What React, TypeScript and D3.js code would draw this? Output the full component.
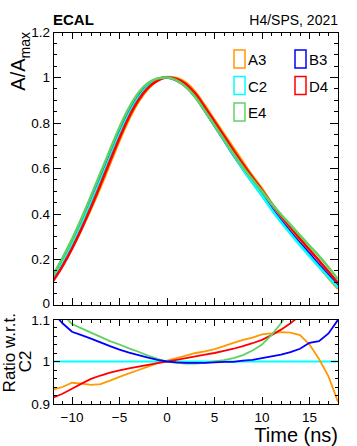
import React from "react";
import * as d3 from "d3";

const times = [-12, -11, -10, -9, -8, -7, -6, -5, -4, -3, -2, -1, 0, 1, 2, 3, 4, 5, 6, 7, 8, 9, 10, 11, 12, 13, 14, 15, 16, 17, 18];

// normalised pulse of the reference channel C2
const pulseC2 = [0.115, 0.185, 0.265, 0.353, 0.448, 0.548, 0.65, 0.75, 0.84, 0.912, 0.962, 0.99, 1.0,
  0.99, 0.963, 0.917, 0.855, 0.79, 0.725, 0.66, 0.597, 0.537, 0.48, 0.42, 0.365, 0.313, 0.263, 0.215, 0.168, 0.122, 0.078];

// ratio of each channel to C2
const ratioA3 = [0.934, 0.94, 0.95, 0.948, 0.945, 0.947, 0.955, 0.964, 0.972, 0.98, 0.988, 0.996, 1.002,
  1.008, 1.014, 1.02, 1.024, 1.029, 1.036, 1.044, 1.051, 1.056, 1.064, 1.066, 1.069, 1.068, 1.062, 1.04, 1.006, 0.965, 0.905];
const ratioB3 = [1.115, 1.09, 1.07, 1.062, 1.054, 1.045, 1.036, 1.028, 1.021, 1.015, 1.009, 1.004, 1.0,
  0.998, 0.997, 0.997, 0.997, 0.998, 0.999, 0.999, 1.002, 1.004, 1.008, 1.012, 1.016, 1.022, 1.03, 1.044, 1.048, 1.066, 1.098];
const ratioC2 = times.map(() => 1);
const ratioD4 = [0.915, 0.924, 0.936, 0.948, 0.959, 0.967, 0.974, 0.979, 0.984, 0.988, 0.992, 0.996, 1.0,
  1.004, 1.008, 1.012, 1.016, 1.02, 1.025, 1.03, 1.036, 1.043, 1.051, 1.062, 1.075, 1.09, 1.108, 1.13, 1.16, 1.2, 1.24];
const ratioE4 = [1.135, 1.112, 1.088, 1.078, 1.068, 1.058, 1.048, 1.04, 1.031, 1.023, 1.014, 1.006, 1.0,
  0.997, 0.995, 0.995, 0.997, 1.0, 1.003, 1.008, 1.015, 1.026, 1.04, 1.062, 1.09, 1.125, 1.165, 1.21, 1.28, 1.36, 1.45];

const channels = ["A3", "B3", "C2", "D4", "E4"];
const channelColors = ["#ff9900", "#0000ff", "#00ffff", "#ff0000", "#5fd35f"];
const channelRatios = [ratioA3, ratioB3, ratioC2, ratioD4, ratioE4];

const ampTicks = [0, 0.2, 0.4, 0.6, 0.8, 1, 1.2];
const ampTickLabels = ["0", "0.2", "0.4", "0.6", "0.8", "1", "1.2"];
const ratioTicks = [0.9, 1, 1.1];
const ratioTickLabels = ["0.9", "1", "1.1"];
const timeTicks = [-10, -5, 0, 5, 10, 15];
const timeTickLabels = ["\u221210", "\u22125", "0", "5", "10", "15"];

const W = 357, H = 446;
const left = 53, right = 338;
const topPad = { y0: 32, y1: 305 };
const botPad = { y0: 319, y1: 404 };
const font = "'Liberation Sans', Arial, Helvetica, sans-serif";

const Frame = ({ x, y, minorX, minorY, majX, minX, majY, minY }) => {
  const [y0, y1] = y.range().slice().sort((a, b) => a - b);
  const [x0, x1] = x.range();
  const segs = [];
  minorX.forEach((v, i) => {
    const len = timeTicks.includes(v) ? majX : minX;
    const px = x(v);
    segs.push(<line key={"xb" + i} x1={px} x2={px} y1={y1} y2={y1 - len} />);
    segs.push(<line key={"xt" + i} x1={px} x2={px} y1={y0} y2={y0 + len} />);
  });
  minorY.forEach((m, i) => {
    const len = m.major ? majY : minY;
    const py = y(m.v);
    segs.push(<line key={"yl" + i} x1={x0} x2={x0 + len} y1={py} y2={py} />);
    segs.push(<line key={"yr" + i} x1={x1} x2={x1 - len} y1={py} y2={py} />);
  });
  return (
    <g stroke="#000" strokeWidth={1} fill="none" shapeRendering="crispEdges">
      <rect x={x0} y={y0} width={x1 - x0} height={y1 - y0} />
      {segs}
    </g>
  );
};

export default function App() {
  const x = d3.scaleLinear().domain([-12, 18]).range([left, right]);
  const yAmp = d3.scaleLinear().domain([0, 1.2]).range([topPad.y1, topPad.y0]);
  const yRat = d3.scaleLinear().domain([0.9, 1.1]).range([botPad.y1, botPad.y0]);

  const minorX = d3.range(-12, 18.01, 1).map((v) => Math.round(v));
  const ampMinor = d3.range(0, 1.2001, 0.05).map((v, i) => ({ v, major: i % 4 === 0 }));
  const ratMinor = d3.range(0.9, 1.1001, 0.02).map((v, i) => ({ v, major: i % 5 === 0 }));

  const ampLine = d3.line<number>().x((_, i) => x(times[i])).y((d) => yAmp(d)).curve(d3.curveMonotoneX);
  const ratLine = d3.line<number>().x((_, i) => x(times[i])).y((d) => yRat(d)).curve(d3.curveLinear);

  const legendPos = [
    { col: 0, row: 0 }, { col: 1, row: 0 }, { col: 0, row: 1 }, { col: 1, row: 1 }, { col: 0, row: 2 },
  ];

  return (
    <svg width={W} height={H} style={{ position: "absolute", left: 0, top: 0, fontFamily: font }}>
      <rect width={W} height={H} fill="#fff" />
      <defs>
        <clipPath id="clipTop"><rect x={left} y={topPad.y0} width={right - left} height={topPad.y1 - topPad.y0} /></clipPath>
        <clipPath id="clipBot"><rect x={left} y={botPad.y0} width={right - left} height={botPad.y1 - botPad.y0} /></clipPath>
      </defs>

      {/* top pad curves */}
      <g clipPath="url(#clipTop)" fill="none" strokeWidth={2.6}>
        {channels.map((c, k) => (
          <path key={c} d={ampLine(pulseC2.map((p, i) => p * channelRatios[k][i])) || ""} stroke={channelColors[k]} />
        ))}
      </g>
      <Frame x={x} y={yAmp} minorX={minorX} minorY={ampMinor} majX={7} minX={3.5} majY={8} minY={4} />
      {ampTicks.map((t, i) => (
        <text key={t} x={left - 3} y={yAmp(t) - (t === 0 ? 1.5 : 0)} dy="0.35em" textAnchor="end" fontSize={13.5}>{ampTickLabels[i]}</text>
      ))}
      <text transform={`translate(${25},${topPad.y0}) rotate(-90)`} textAnchor="end" fontSize={20}>
        A/A<tspan fontSize={14} dy={5}>max</tspan>
      </text>

      {/* legend */}
      {channels.map((c, k) => {
        const p = legendPos[k];
        const bx = 234 + p.col * 61;
        const by = 50 + p.row * 26.5;
        return (
          <g key={c}>
            <rect x={bx} y={by} width={11} height={18} fill="none" stroke={channelColors[k]} strokeWidth={1.5} />
            <text x={bx + 14} y={by + 15} fontSize={15}>{c}</text>
          </g>
        );
      })}

      <text x={left} y={25} fontSize={15} fontWeight="bold">ECAL</text>
      <text x={right} y={25} fontSize={14} textAnchor="end">H4/SPS, 2021</text>

      {/* ratio pad */}
      <g clipPath="url(#clipBot)" fill="none" strokeWidth={1.8}>
        {[2, 0, 3, 4, 1].map((k) => (
          <path key={channels[k]} d={ratLine(channelRatios[k]) || ""} stroke={channelColors[k]} />
        ))}
      </g>
      <Frame x={x} y={yRat} minorX={minorX} minorY={ratMinor} majX={7} minX={3.5} majY={7} minY={3.5} />
      {ratioTicks.map((t, i) => (
        <text key={t} x={left - 3} y={yRat(t) + (t === 1.1 ? 1.5 : 0)} dy="0.35em" textAnchor="end" fontSize={13.5}>{ratioTickLabels[i]}</text>
      ))}
      {timeTicks.map((t, i) => (
        <text key={t} x={x(t)} y={422} textAnchor="middle" fontSize={13.5}>{timeTickLabels[i]}</text>
      ))}
      <text transform={`translate(${15},${botPad.y0 - 6}) rotate(-90)`} textAnchor="end" fontSize={17}>Ratio w.r.t.</text>
      <text transform={`translate(${31},${(botPad.y0 + botPad.y1) / 2}) rotate(-90)`} textAnchor="middle" fontSize={17}>C2</text>
      <text x={right} y={442} textAnchor="end" fontSize={20}>Time (ns)</text>
    </svg>
  );
}
